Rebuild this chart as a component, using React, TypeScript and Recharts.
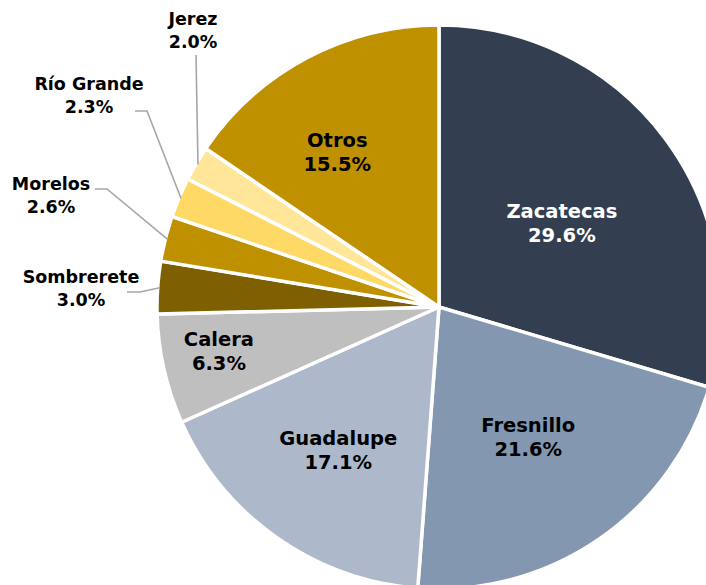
import React from "react";
import { PieChart, Pie, Cell } from "recharts";

const names = ["Zacatecas", "Fresnillo", "Guadalupe", "Calera", "Sombrerete", "Morelos", "Río Grande", "Jerez", "Otros"];
const shares = [29.6, 21.6, 17.1, 6.3, 3.0, 2.6, 2.3, 2.0, 15.5];
const colors = ["#333F50", "#8497B0", "#ADB9CA", "#BFBFBF", "#7F6000", "#BF9000", "#FFD966", "#FFE699", "#BF9000"];
const labelColors = ["#FFFFFF", "#000000", "#000000", "#000000", "#000000", "#000000", "#000000", "#000000", "#000000"];

const data = names.map((n, i) => ({ name: n, value: shares[i] }));

// label layout (inside: radius factor + angle tweak; outside: offsets from centre)
type Inside = { kind: "in"; rf: number; da: number };
type Outside = { kind: "out"; tx: number; ty: number; pts: [number, number][] };
const layout: Record<string, Inside | Outside> = {
  Zacatecas: { kind: "in", rf: 0.527, da: 2.5 },
  Fresnillo: { kind: "in", rf: 0.558, da: 0 },
  Guadalupe: { kind: "in", rf: 0.621, da: 0 },
  Calera: { kind: "in", rf: 0.796, da: 1.4 },
  Otros: { kind: "in", rf: 0.657, da: -5.4 },
  Sombrerete: { kind: "out", tx: -358, ty: -24, pts: [[-299, -15], [-312, -15]] },
  Morelos: { kind: "out", tx: -388, ty: -117, pts: [[-332, -118], [-344, -118]] },
  "Río Grande": { kind: "out", tx: -350, ty: -217, pts: [[-292, -196], [-304, -196]] },
  Jerez: { kind: "out", tx: -246, ty: -282, pts: [[-243, -252]] },
};

const FONT = "'DejaVu Sans', sans-serif";
const RAD = Math.PI / 180;

const renderLabel = (props: any) => {
  const { cx, cy, midAngle, outerRadius, index } = props;
  const name = names[index];
  const pct = shares[index].toFixed(1) + "%";
  const cfg = layout[name];
  if (!cfg) return null;
  if (cfg.kind === "in") {
    const clock = (90 - midAngle + cfg.da) * RAD;
    const r = outerRadius * cfg.rf;
    const x = cx + r * Math.sin(clock);
    const y = cy - r * Math.cos(clock);
    return (
      <text x={x} y={y} textAnchor="middle" fill={labelColors[index]} fontFamily={FONT} fontWeight={700} fontSize={19.5}>
        <tspan x={x} y={y - 5}>{name}</tspan>
        <tspan x={x} y={y + 19}>{pct}</tspan>
      </text>
    );
  }
  const a = -midAngle * RAD;
  const r0 = outerRadius - 2;
  const sx = cx + r0 * Math.cos(a);
  const sy = cy + r0 * Math.sin(a);
  const pts = [[sx, sy], ...cfg.pts.map(([dx, dy]) => [cx + dx, cy + dy])];
  const tx = cx + cfg.tx;
  const ty = cy + cfg.ty;
  return (
    <g>
      <polyline points={pts.map((p) => p.join(",")).join(" ")} fill="none" stroke="#A6A6A6" strokeWidth={1.6} />
      <text x={tx} y={ty} textAnchor="middle" fill="#000000" fontFamily={FONT} fontWeight={700} fontSize={17.5}>
        <tspan x={tx} y={ty}>{name}</tspan>
        <tspan x={tx} y={ty + 23}>{pct}</tspan>
      </text>
    </g>
  );
};

export default function App() {
  return (
    <div style={{ position: "absolute", left: 0, top: 0, width: 706, height: 585, overflow: "hidden", background: "#fff" }}>
      <PieChart width={706} height={585} margin={{ top: 0, right: 0, bottom: 0, left: 0 }}>
        <Pie
          data={data}
          dataKey="value"
          nameKey="name"
          cx={439}
          cy={307}
          outerRadius={282}
          startAngle={90}
          endAngle={-270}
          stroke="#FFFFFF"
          strokeWidth={3.5}
          label={renderLabel}
          labelLine={false}
          isAnimationActive={false}
        >
          {data.map((d, i) => (
            <Cell key={d.name} fill={colors[i]} />
          ))}
        </Pie>
      </PieChart>
    </div>
  );
}
